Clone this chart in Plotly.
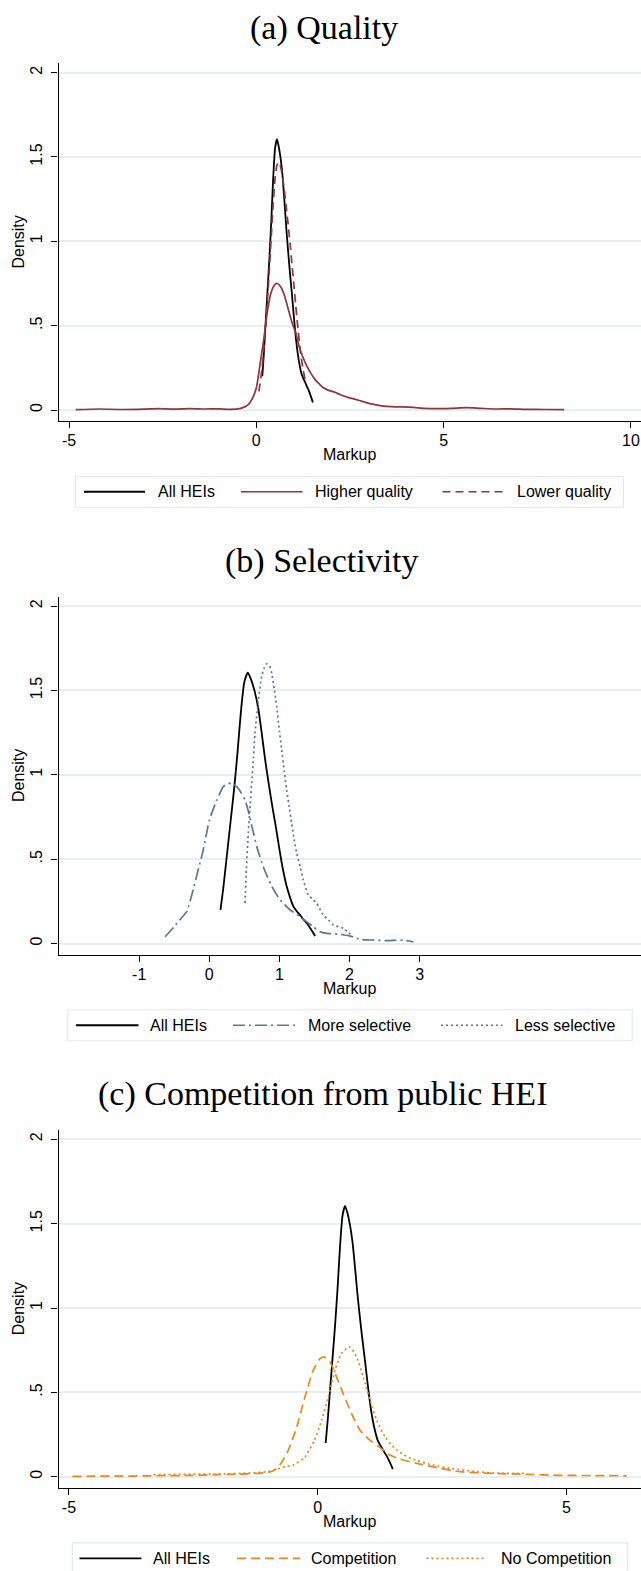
import plotly.graph_objects as go

# ---------------- data ----------------
# Kernel density of markups, all HEIs (shared by the three panels)
all_x = [0.16, 0.20, 0.25, 0.30, 0.35, 0.40, 0.45, 0.50, 0.55, 0.60, 0.65, 0.70, 0.75, 0.80,
         0.85, 0.90, 0.95, 1.00, 1.05, 1.10, 1.15, 1.20, 1.25, 1.30, 1.35, 1.40, 1.45, 1.51]
all_y = [0.20, 0.33, 0.52, 0.71, 0.90, 1.12, 1.37, 1.55, 1.605, 1.56, 1.49, 1.39, 1.24, 1.08,
         0.94, 0.81, 0.69, 0.56, 0.44, 0.345, 0.275, 0.22, 0.19, 0.166, 0.14, 0.116, 0.085, 0.045]

# (a) Quality
hq_x = [-4.82, -4.2, -3.6, -3.0, -2.6, -2.2, -1.8, -1.4, -1.0, -0.7, -0.45, -0.3, -0.2, -0.1,
        0.0, 0.1, 0.2, 0.3, 0.4, 0.5, 0.56, 0.65, 0.75, 0.85, 0.95, 1.05, 1.15, 1.25, 1.35,
        1.45, 1.57, 1.7, 1.8, 1.95, 2.1, 2.25, 2.45, 2.65, 2.85, 3.1, 3.35, 3.6, 3.9, 4.2,
        4.5, 4.8, 5.2, 5.6, 6.0, 6.4, 6.8, 7.2, 7.7, 8.22]
hq_y = [0.002, 0.006, 0.003, 0.005, 0.008, 0.005, 0.008, 0.006, 0.007, 0.004, 0.008, 0.02,
        0.035, 0.07, 0.13, 0.27, 0.42, 0.59, 0.70, 0.745, 0.75, 0.73, 0.68, 0.60, 0.52, 0.46,
        0.37, 0.31, 0.26, 0.22, 0.18, 0.15, 0.13, 0.115, 0.105, 0.09, 0.075, 0.063, 0.05,
        0.035, 0.025, 0.02, 0.018, 0.015, 0.01, 0.008, 0.01, 0.014, 0.01, 0.006, 0.007,
        0.004, 0.003, 0.002]
lq_x = [0.07, 0.15, 0.20, 0.25, 0.30, 0.35, 0.40, 0.45, 0.50, 0.55, 0.60, 0.65, 0.70, 0.75,
        0.80, 0.85, 0.90, 0.95, 1.00, 1.05, 1.10, 1.15, 1.20, 1.25, 1.30]
lq_y = [0.11, 0.24, 0.36, 0.50, 0.66, 0.84, 1.03, 1.22, 1.37, 1.45, 1.47, 1.44, 1.38, 1.30,
        1.20, 1.10, 0.99, 0.87, 0.75, 0.63, 0.51, 0.40, 0.31, 0.24, 0.18]

# (b) Selectivity
ms_x = [-0.63, -0.50, -0.40, -0.32, -0.23, -0.15, -0.10, -0.05, 0.00, 0.05, 0.10, 0.15, 0.20,
        0.25, 0.32, 0.40, 0.46, 0.51, 0.56, 0.61, 0.68, 0.77, 0.89, 1.01, 1.15, 1.29, 1.40,
        1.48, 1.58, 1.68, 1.85, 2.01, 2.15, 2.35, 2.53, 2.77, 2.91]
ms_y = [0.04, 0.10, 0.15, 0.19, 0.32, 0.45, 0.53, 0.63, 0.73, 0.79, 0.845, 0.89, 0.93, 0.945,
        0.95, 0.925, 0.89, 0.85, 0.78, 0.69, 0.57, 0.455, 0.34, 0.26, 0.20, 0.16, 0.125, 0.10,
        0.07, 0.06, 0.055, 0.044, 0.025, 0.02, 0.017, 0.02, 0.01]
ls_x = [0.51, 0.53, 0.556, 0.58, 0.605, 0.63, 0.652, 0.70, 0.747, 0.78, 0.82, 0.86, 0.89,
        0.93, 0.961, 1.00, 1.033, 1.07, 1.104, 1.14, 1.175, 1.21, 1.247, 1.30, 1.341, 1.412,
        1.47, 1.532, 1.626, 1.70, 1.769, 1.91, 2.054]
ls_y = [0.24, 0.45, 0.654, 0.80, 0.95, 1.10, 1.247, 1.444, 1.582, 1.63, 1.658, 1.645, 1.603,
        1.50, 1.404, 1.26, 1.148, 1.02, 0.91, 0.81, 0.713, 0.62, 0.535, 0.45, 0.377, 0.288,
        0.265, 0.238, 0.169, 0.14, 0.11, 0.09, 0.04]

# (c) Competition from public HEI
cp_x = [-4.93, -4.5, -4.0, -3.5, -3.0, -2.5, -2.0, -1.6, -1.2, -1.0, -0.89, -0.76, -0.59,
        -0.42, -0.255, -0.088, 0.046, 0.127, 0.247, 0.38, 0.515, 0.68, 0.85, 1.05, 1.32, 1.45,
        1.65, 1.99, 2.46, 2.86, 3.5, 4.2, 4.87, 5.5, 6.21]
cp_y = [0.002, 0.003, 0.003, 0.005, 0.006, 0.008, 0.012, 0.015, 0.02, 0.025, 0.035, 0.07,
        0.158, 0.296, 0.474, 0.632, 0.70, 0.71, 0.68, 0.59, 0.49, 0.375, 0.276, 0.217, 0.158,
        0.128, 0.105, 0.079, 0.05, 0.03, 0.02, 0.014, 0.008, 0.007, 0.005]
nc_x = [-3.3, -3.0, -2.5, -2.0, -1.5, -1.0, -0.82, -0.65, -0.49, -0.27, -0.07, 0.08, 0.213,
        0.348, 0.48, 0.635, 0.78, 0.917, 1.05, 1.186, 1.353, 1.49, 1.59, 1.79, 2.0, 2.32,
        2.66, 3.2, 3.66, 4.2]
nc_y = [0.012, 0.013, 0.015, 0.016, 0.02, 0.03, 0.045, 0.06, 0.07, 0.113, 0.212, 0.335,
        0.474, 0.632, 0.73, 0.77, 0.71, 0.59, 0.454, 0.335, 0.237, 0.185, 0.158, 0.12, 0.095,
        0.069, 0.05, 0.03, 0.02, 0.02]

y_tickvals = [0, 0.5, 1, 1.5, 2]
y_ticktext = ["0", ".5", "1", "1.5", "2"]

panel_titles = ["(a) Quality", "(b) Selectivity", "(c) Competition from public HEI"]
x_tickvals = [[-5, 0, 5, 10], [-1, 0, 1, 2, 3], [-5, 0, 5]]

# ---------------- styling ----------------
W, H = 641, 1571
BLACK = "#000000"
MAROON = "#90353B"
SLATE = "#55799A"
ORANGE = "#E8891C"
GRID = "#E6EEF0"
SANS = "Liberation Sans, Arial, sans-serif"
SERIF = "Liberation Serif, Times New Roman, serif"


def fx(px):
    return px / W


def fy(py):
    return 1 - py / H


# per-panel geometry (pixels): y of zero line, x of zero tick, px per x unit
LEFT = 58.5
Y_UNIT = 168.7
Y_LO, Y_HI = -0.066, 2.056
panels = [
    dict(y0=410.0, x0=256.3, xunit=37.46, title_y=27.5, title_x=323.5,
         legend_lines=[(84, 145), (241, 302.5), (442.5, 505)],
         legend_text=[157, 314, 515.5], legend_box=(75.6, 623.5)),
    dict(y0=943.5, x0=209.3, xunit=70.1, title_y=560.5, title_x=322.0,
         legend_lines=[(76, 138.5), (233, 295), (441, 502.5)],
         legend_text=[148.5, 307, 514.3], legend_box=(67.8, 632.2)),
    dict(y0=1476.7, x0=317.7, xunit=49.75, title_y=1094.3, title_x=322.4,
         legend_lines=[(79.5, 141.4), (237, 300), (426.5, 486)],
         legend_text=[152, 310.1, 499.8], legend_box=(72.3, 627.8)),
]

series = [
    [("All HEIs", all_x, all_y, BLACK, "solid", 1.8),
     ("Higher quality", hq_x, hq_y, MAROON, "solid", 1.7),
     ("Lower quality", lq_x, lq_y, MAROON, "8px,5px", 1.7)],
    [("All HEIs", all_x, all_y, BLACK, "solid", 1.8),
     ("More selective", ms_x, ms_y, SLATE, "12px,4px,2px,4px", 1.7),
     ("Less selective", ls_x, ls_y, SLATE, "2px,3px", 1.7)],
    [("All HEIs", all_x, all_y, BLACK, "solid", 1.8),
     ("Competition", cp_x, cp_y, ORANGE, "9px,5px", 1.7),
     ("No Competition", nc_x, nc_y, ORANGE, "2px,3px", 1.7)],
]

fig = go.Figure()
layout = dict(
    width=W, height=H,
    margin=dict(l=0, r=0, t=0, b=0),
    paper_bgcolor="white", plot_bgcolor="white",
    showlegend=False,
    font=dict(family=SANS, size=16, color="#000"),
)
annotations = []
shapes = []

for i, (p, group) in enumerate(zip(panels, series)):
    sfx = "" if i == 0 else str(i + 1)
    bottom_px = p["y0"] - Y_LO * Y_UNIT
    top_px = p["y0"] - Y_HI * Y_UNIT
    xr = [(LEFT - p["x0"]) / p["xunit"], (W - p["x0"]) / p["xunit"]]

    layout["xaxis" + sfx] = dict(
        domain=[fx(LEFT), 1.0], range=xr, anchor="y" + sfx,
        showgrid=False, zeroline=False,
        showline=True, linecolor="#000", linewidth=1.3,
        ticks="outside", ticklen=6, tickwidth=1.3, tickcolor="#000",
        ticklabelstandoff=-1,
        tickvals=x_tickvals[i], ticktext=[str(v) for v in x_tickvals[i]],
        tickfont=dict(family=SANS, size=16, color="#000"),
        automargin=False, fixedrange=True,
    )
    layout["yaxis" + sfx] = dict(
        domain=[fy(bottom_px), fy(top_px)], range=[Y_LO, Y_HI], anchor="x" + sfx,
        showgrid=True, gridcolor=GRID, gridwidth=1.6,
        zeroline=True, zerolinecolor=GRID, zerolinewidth=1.6,
        showline=True, linecolor="#000", linewidth=1.3,
        ticks="outside", ticklen=6, tickwidth=1.3, tickcolor="#000",
        ticklabelstandoff=3,
        tickvals=y_tickvals, ticktext=y_ticktext, tickangle=-90,
        tickfont=dict(family=SANS, size=16, color="#000"),
        automargin=False, fixedrange=True,
    )

    for name, xs, ys, color, dash, width in group:
        fig.add_trace(go.Scatter(
            x=xs, y=ys, mode="lines", name=name,
            line=dict(color=color, dash=dash, width=width, shape="spline", smoothing=0.6),
            xaxis="x" + sfx, yaxis="y" + sfx, showlegend=False,
        ))

    # panel title
    annotations.append(dict(
        text=panel_titles[i], xref="paper", yref="paper",
        x=fx(p["title_x"]), y=fy(p["title_y"]), xanchor="center", yanchor="middle",
        showarrow=False, font=dict(family=SERIF, size=34, color="#000"),
    ))
    # axis titles
    annotations.append(dict(
        text="Density", xref="paper", yref="paper", textangle=-90,
        x=fx(18.4), y=fy((top_px + bottom_px) / 2), xanchor="center", yanchor="middle",
        showarrow=False, font=dict(family=SANS, size=16, color="#000"),
    ))
    annotations.append(dict(
        text="Markup", xref="paper", yref="paper",
        x=fx((LEFT + W) / 2), y=fy(bottom_px + 33.5), xanchor="center", yanchor="middle",
        showarrow=False, font=dict(family=SANS, size=16, color="#000"),
    ))

    # legend box below the panel
    leg_y = bottom_px + 70.6
    bx0, bx1 = p["legend_box"]
    shapes.append(dict(
        type="rect", xref="paper", yref="paper",
        x0=fx(bx0), x1=fx(bx1), y0=fy(leg_y + 15.5), y1=fy(leg_y - 15.5),
        line=dict(color="#E2E9EC", width=1.2), fillcolor="white", layer="below",
    ))
    for (lx0, lx1), tx, (name, _, _, color, dash, width) in zip(
            p["legend_lines"], p["legend_text"], group):
        shapes.append(dict(
            type="line", xref="paper", yref="paper",
            x0=fx(lx0), x1=fx(lx1), y0=fy(leg_y), y1=fy(leg_y),
            line=dict(color=color, dash=dash, width=width),
        ))
        annotations.append(dict(
            text=name, xref="paper", yref="paper",
            x=fx(tx - 1), y=fy(leg_y), xanchor="left", yanchor="middle",
            showarrow=False, font=dict(family=SANS, size=16, color="#000"),
        ))

layout["annotations"] = annotations
layout["shapes"] = shapes
fig.update_layout(**layout)

fig.write_html("out.html")
